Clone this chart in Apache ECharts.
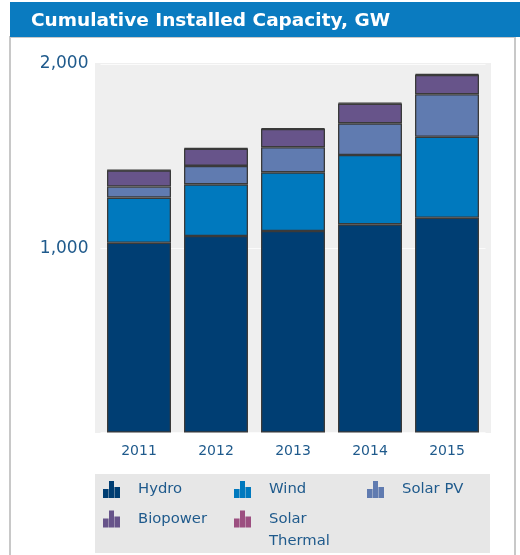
<!DOCTYPE html>
<html>
<head>
<meta charset="utf-8">
<script src="https://cdn.jsdelivr.net/npm/echarts@6/dist/echarts.min.js"></script>
<style>html,body{margin:0;padding:0;background:#fff;}#chart{width:520px;height:555px;}</style>
</head>
<body>
<div id="chart"></div>
<script>
var years = ['2011', '2012', '2013', '2014', '2015'];
var hydro = [1030, 1067, 1094, 1130, 1166];
var wind = [245, 280, 318, 376, 439];
var solarPV = [60, 100, 136, 172, 231];
var biopower = [88, 93, 99, 107, 105];
var solarThermal = [2, 3, 4, 5, 5];
var yTicks = [0, 1000, 2000];

var FONT = 'DejaVu Sans';
var TXT = '#1f5a8c';
var icon = 'path://M0,8 h5.6 v9 h-5.6 z M6,0 h5 v17 h-5 z M11.4,6 h5.6 v11 h-5.6 z';

var chart = echarts.init(document.getElementById('chart'), null, {renderer: 'canvas'});

function mk(name, data, color) {
  return {
    name: name, type: 'bar', stack: 'total', data: data, barWidth: 64,
    itemStyle: {color: color, borderColor: '#3a3a3a', borderWidth: 1.3},
    emphasis: {disabled: true}
  };
}
function lg(name, left, top, extra) {
  var o = {
    data: [{name: name, icon: icon}], left: left, top: top, padding: 0,
    itemWidth: 17, itemHeight: 17, selectedMode: false,
    itemStyle: {borderWidth: 0},
    textStyle: {color: TXT, fontSize: 14.8, fontFamily: FONT, lineHeight: 17, padding: [0, 0, 0, 13]}
  };
  if (extra) { for (var k in extra) o[k] = extra[k]; }
  return o;
}

chart.setOption({
  animation: false,
  backgroundColor: '#ffffff',
  title: {
    text: 'Cumulative Installed Capacity, GW', left: 31, top: 12, padding: 0,
    textStyle: {color: '#ffffff', fontSize: 18.5, fontWeight: 'bold', fontFamily: FONT}
  },
  graphic: [
    {type: 'rect', z: -10, shape: {x: 10, y: 37, width: 505, height: 520}, style: {fill: '#fff', stroke: '#c8c8c8', lineWidth: 2}},
    {type: 'rect', z: -9, shape: {x: 10, y: 2, width: 512, height: 35}, style: {fill: '#0a7bc0'}},
    {type: 'rect', z: -9, shape: {x: 95, y: 63, width: 396, height: 370}, style: {fill: '#efefef'}},
    {type: 'rect', z: -9, shape: {x: 95, y: 474, width: 395, height: 79}, style: {fill: '#e7e7e7'}}
  ],
  grid: {left: 100.5, right: 34.5, top: 64, bottom: 122.4},
  xAxis: {
    type: 'category', data: years,
    axisLine: {show: false}, axisTick: {show: false},
    axisLabel: {color: TXT, fontSize: 14, fontFamily: FONT, margin: 12}
  },
  yAxis: {
    type: 'value', min: yTicks[0], max: yTicks[2], interval: yTicks[1] - yTicks[0],
    axisLine: {show: false}, axisTick: {show: false},
    splitLine: {lineStyle: {color: '#fbfbfb', width: 1}},
    axisLabel: {
      color: TXT, fontSize: 17, fontFamily: FONT, margin: 12,
      formatter: function (v) { return v === 0 ? '' : v.toLocaleString('en-US'); }
    }
  },
  legend: [
    lg('Hydro', 103, 481),
    lg('Wind', 234, 481),
    lg('Solar PV', 367, 481),
    lg('Biopower', 103, 510.5),
    lg('Solar Thermal', 234, 486, {
      formatter: function () { return ' \nSolar\nThermal'; },
      textStyle: {color: TXT, fontSize: 14.8, fontFamily: FONT, lineHeight: 22, padding: [0, 0, 0, 13]}
    })
  ],
  series: [
    mk('Hydro', hydro, '#003e73'),
    mk('Wind', wind, '#0079be'),
    mk('Solar PV', solarPV, '#607bb0'),
    mk('Biopower', biopower, '#67548a'),
    mk('Solar Thermal', solarThermal, '#9c4f80')
  ]
});
</script>
</body>
</html>
